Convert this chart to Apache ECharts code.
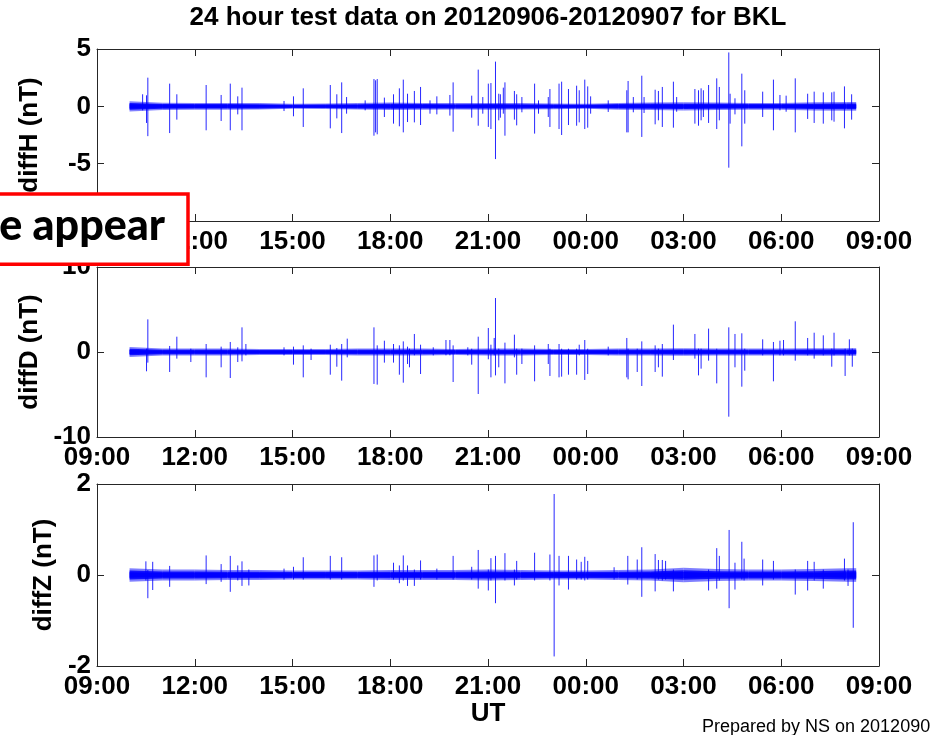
<!DOCTYPE html>
<html><head><meta charset="utf-8">
<script src="https://cdn.jsdelivr.net/npm/echarts@6/dist/echarts.min.js"></script>
<style>html,body{margin:0;padding:0;background:#fff}#c{width:933px;height:735px}</style>
</head><body><div id="c"></div>
<script>
// ---------- data (time in hours after 09:00 UT, 20120906) ----------
const titleText = '24 hour test data on 20120906-20120907 for BKL';
const xTickLabels = ['09:00','12:00','15:00','18:00','21:00','00:00','03:00','06:00','09:00'];
const xLabelName = 'UT';
const panelNames = ['diffH (nT)', 'diffD (nT)', 'diffZ (nT)'];
const yMins = [-10, -10, -2];
const yMaxs = [5, 10, 2];
const yIntervals = [5, 10, 2];
const footerText = 'Prepared by NS on 2012090';
const overlayText = 'e appear';

// background noise band: half-width (nT) sampled hourly
const noiseHours = [1,2,3,4,5,6,7,8,9,10,11,12,13,14,15,16,17,18,19,20,21,22,23,23.3];
const hNoise = [0.45,0.32,0.30,0.30,0.28,0.22,0.24,0.28,0.33,0.30,0.28,0.30,0.28,0.25,0.22,0.30,0.33,0.36,0.33,0.30,0.30,0.36,0.38,0.38];
const dNoise = [0.60,0.40,0.40,0.40,0.35,0.35,0.35,0.40,0.40,0.40,0.35,0.40,0.40,0.35,0.35,0.40,0.40,0.45,0.40,0.40,0.40,0.45,0.45,0.45];
const zNoise = [0.15,0.12,0.12,0.11,0.11,0.10,0.10,0.10,0.11,0.11,0.11,0.12,0.11,0.10,0.10,0.11,0.12,0.16,0.13,0.12,0.12,0.13,0.15,0.15];

// diffH spikes
const hSpikeHours = [1.40,1.52,1.56,2.23,2.45,3.35,3.81,4.09,4.32,4.45,5.74,6.03,6.33,7.16,7.36,7.51,7.66,8.23,8.50,8.55,8.60,8.82,9.10,9.28,9.40,9.53,9.74,9.93,10.22,10.43,10.83,10.93,11.50,11.70,11.84,12.01,12.09,12.23,12.33,12.38,12.47,12.52,12.81,12.88,13.04,13.43,13.55,13.85,13.90,14.18,14.26,14.47,14.72,14.80,14.97,15.06,15.15,15.69,16.26,16.30,16.46,16.72,16.79,17.13,17.23,17.35,17.69,17.79,18.35,18.46,18.54,18.61,18.77,19.02,19.10,19.39,19.43,19.58,19.79,19.88,20.43,20.76,20.96,21.15,21.43,21.81,22.01,22.29,22.55,22.62,22.94,23.16];
const hSpikeHigh = [1.05,0.96,2.5,1.98,1.05,1.86,0.99,1.98,0.87,1.63,0.47,0.87,1.57,1.86,1.05,2.09,0.81,0.52,2.38,2.27,2.38,0.76,1.05,1.57,2.33,1.10,1.34,1.69,0.52,0.87,0.99,2.09,0.93,3.2,0.81,1.98,2.03,3.9,1.10,1.05,1.63,2.09,1.34,1.05,0.81,1.98,0.52,0.81,1.51,1.98,2.15,1.51,1.80,1.40,2.33,1.74,0.87,0.52,1.40,2.21,0.81,2.67,0.81,1.45,1.34,1.69,2.15,0.81,1.51,1.40,1.57,1.40,1.86,2.44,1.69,4.7,1.10,0.70,2.85,1.40,1.28,2.33,0.99,0.93,2.44,1.10,1.28,1.22,1.22,1.28,1.74,1.05];
const hSpikeLow = [-0.35,-1.45,-2.6,-2.33,-1.16,-2.09,-1.28,-2.09,-0.70,-2.09,-0.41,-0.87,-1.80,-1.92,-1.05,-2.33,-0.64,-0.35,-2.56,-2.27,-2.44,-0.93,-1.51,-1.74,-2.27,-1.37,-1.40,-1.63,-0.64,-0.70,-0.81,-2.21,-0.99,-1.69,-0.64,-1.80,-1.98,-4.6,-1.22,-0.99,-0.64,-2.56,-1.16,-1.66,-0.52,-2.38,-0.64,-0.93,-1.80,-1.98,-2.50,-1.63,-1.69,-1.40,-1.98,-1.86,-0.64,-0.49,-2.27,-2.27,-0.52,-2.67,-0.58,-1.57,-1.22,-1.80,-1.86,-0.47,-1.51,-1.69,-1.22,-0.93,-1.45,-1.98,-1.22,-5.35,-1.51,-0.70,-3.49,-1.51,-0.93,-2.09,-0.35,-0.47,-2.27,-1.10,-1.45,-1.51,-1.22,-1.34,-1.92,-1.16];

// diffD spikes
const dSpikeHours = [1.52,1.56,2.23,2.45,2.88,3.35,3.81,4.09,4.32,4.45,4.57,5.74,6.03,6.33,6.57,7.16,7.36,7.51,7.68,8.50,8.60,8.82,9.10,9.28,9.40,9.53,9.59,9.74,9.93,10.32,10.71,10.83,10.93,11.38,11.50,11.70,12.01,12.09,12.19,12.23,12.33,12.52,12.81,12.88,13.04,13.43,13.85,13.90,14.18,14.26,14.47,14.72,14.80,14.97,15.06,15.69,16.26,16.30,16.58,16.72,17.13,17.23,17.35,17.69,18.35,18.46,18.54,18.77,19.02,19.39,19.58,19.79,19.88,20.43,20.76,20.96,21.07,21.43,21.81,22.01,22.29,22.55,22.62,22.96,23.09,23.18];
const dSpikeHigh = [0.39,3.84,0.71,1.80,0.39,0.94,0.63,1.18,0.55,2.90,0.94,0.55,0.63,0.78,0.40,0.86,0.47,0.94,1.57,2.90,0.78,1.33,0.94,0.78,1.25,0.63,0.40,2.12,0.86,0.55,1.41,1.41,0.78,0.55,0.39,1.80,2.82,0.86,1.65,6.35,0.39,1.10,2.04,0.39,0.40,0.78,0.94,0.39,0.94,0.39,0.39,0.39,0.86,1.41,0.39,0.63,1.65,0.39,0.39,1.25,0.78,0.39,0.94,3.22,2.12,0.39,0.39,2.75,0.39,2.90,2.12,2.20,0.39,1.49,1.18,1.33,1.41,3.61,1.65,2.27,1.96,0.40,2.27,0.39,1.49,0.40];
const dSpikeLow = [-2.27,-1.25,-2.35,-0.78,-1.18,-2.98,-1.80,-3.06,-1.18,-1.10,-0.40,-0.40,-1.49,-2.98,-0.94,-2.67,-1.73,-3.37,-0.63,-3.76,-3.84,-1.25,-1.25,-2.67,-3.61,-1.41,-1.80,-0.39,-2.59,-0.40,-0.39,-0.39,-3.53,-0.40,-1.49,-4.94,-0.86,-2.98,-0.40,-2.75,-1.80,-3.69,-0.63,-2.67,-1.41,-3.45,-1.41,-2.82,-2.98,-2.90,-2.67,-2.67,-0.40,-3.29,-2.59,-0.40,-2.98,-3.22,-2.35,-4.00,-2.35,-1.80,-2.90,-0.94,-0.78,-2.75,-1.96,-1.02,-3.69,-7.61,-1.80,-4.08,-2.20,-0.40,-3.45,-0.40,-0.40,-1.02,-0.40,-0.78,-0.40,-1.73,-0.40,-2.82,-0.40,-1.73];

// diffZ spikes
const zSpikeHours = [1.50,1.56,1.71,2.23,3.35,3.81,4.09,4.32,4.45,4.66,5.74,6.03,6.33,7.16,7.51,8.50,8.60,9.10,9.28,9.40,9.53,9.74,9.93,10.43,10.93,11.50,11.70,12.01,12.09,12.23,12.52,12.81,12.88,13.43,13.90,14.03,14.18,14.47,14.72,14.86,14.97,15.06,15.87,16.29,16.58,16.72,17.13,17.23,17.35,17.45,17.69,18.77,19.02,19.10,19.40,19.58,19.79,19.86,20.43,20.76,21.43,21.81,22.01,22.29,22.94,23.05,23.21];
const zSpikeHigh = [0.30,0.11,0.29,0.20,0.43,0.24,0.42,0.21,0.30,0.12,0.14,0.18,0.39,0.42,0.39,0.43,0.45,0.27,0.21,0.43,0.21,0.12,0.32,0.14,0.42,0.18,0.55,0.12,0.37,0.42,0.48,0.12,0.31,0.49,0.45,1.78,0.42,0.42,0.34,0.29,0.40,0.31,0.17,0.42,0.34,0.61,0.46,0.33,0.33,0.31,0.12,0.12,0.59,0.42,0.99,0.27,0.73,0.36,0.34,0.31,0.12,0.31,0.29,0.12,0.36,0.12,1.16];
const zSpikeLow = [-0.12,-0.51,-0.33,-0.26,-0.20,-0.15,-0.37,-0.12,-0.24,-0.23,-0.10,-0.10,-0.10,-0.10,-0.10,-0.26,-0.12,-0.10,-0.18,-0.12,-0.24,-0.24,-0.10,-0.10,-0.10,-0.10,-0.30,-0.34,-0.12,-0.62,-0.12,-0.23,-0.10,-0.12,-0.12,-1.79,-0.23,-0.32,-0.10,-0.10,-0.12,-0.10,-0.10,-0.21,-0.10,-0.48,-0.36,-0.10,-0.12,-0.10,-0.36,-0.34,-0.30,-0.12,-0.73,-0.32,-0.10,-0.12,-0.23,-0.10,-0.43,-0.34,-0.12,-0.30,-0.12,-0.24,-1.16];

// ---------- chart ----------
const FONT = 'Liberation Sans, Arial, Helvetica, sans-serif';
const AX = '#262626';
const grids = [
  {left: 97, top: 49, width: 782, height: 172},
  {left: 97, top: 267, width: 782, height: 170},
  {left: 97, top: 484, width: 782, height: 182}
];
const nameGaps = [53, 53, 35];
const noiseSets = [hNoise, dNoise, zNoise];
const spikeSets = [
  [hSpikeHours, hSpikeHigh, hSpikeLow],
  [dSpikeHours, dSpikeHigh, dSpikeLow],
  [zSpikeHours, zSpikeHigh, zSpikeLow]
];

function bandPoly(api, t0, e0, t1, e1, f) {
  return [api.coord([t0, e0 * f]), api.coord([t1, e1 * f]), api.coord([t1, -e1 * f]), api.coord([t0, -e0 * f])];
}

const labelStyle = {fontSize: 26, fontWeight: 'bold', color: '#000', fontFamily: FONT};
const xAxes = [], yAxes = [], series = [];
grids.forEach((g, i) => {
  const common = {
    gridIndex: i, type: 'value', min: 0, max: 24, interval: 3,
    axisLine: {show: true, onZero: false, lineStyle: {color: AX, width: 1}},
    axisTick: {show: true, inside: true, length: 7, lineStyle: {color: AX}},
    splitLine: {show: false}
  };
  xAxes.push(Object.assign({}, common, {
    position: 'bottom',
    axisLabel: Object.assign({margin: 8, showMinLabel: true, showMaxLabel: true,
      formatter: v => xTickLabels[Math.round(v / 3)]}, labelStyle),
    name: i === 2 ? xLabelName : '', nameLocation: 'middle', nameGap: 31,
    nameTextStyle: labelStyle
  }));
  xAxes.push(Object.assign({}, common, {position: 'top', axisLabel: {show: false}}));
  const ycommon = {
    gridIndex: i, type: 'value', min: yMins[i], max: yMaxs[i], interval: yIntervals[i],
    axisLine: {show: true, onZero: false, lineStyle: {color: AX, width: 1}},
    axisTick: {show: true, inside: true, length: 7, lineStyle: {color: AX}},
    splitLine: {show: false}
  };
  yAxes.push(Object.assign({}, ycommon, {
    position: 'left',
    axisLabel: Object.assign({margin: 6, showMinLabel: true, showMaxLabel: true}, labelStyle),
    name: panelNames[i], nameLocation: 'middle', nameGap: nameGaps[i],
    nameTextStyle: labelStyle
  }));
  yAxes.push(Object.assign({}, ycommon, {position: 'right', axisLabel: {show: false}}));

  const nz = noiseSets[i];
  const band = [];
  for (let k = 0; k < noiseHours.length - 1; k++) band.push([noiseHours[k], nz[k], noiseHours[k + 1], nz[k + 1]]);
  series.push({
    type: 'custom', xAxisIndex: i * 2, yAxisIndex: i * 2, z: 2,
    data: band, silent: true,
    renderItem: (params, api) => {
      const t0 = api.value(0), e0 = api.value(1), t1 = api.value(2), e1 = api.value(3);
      return {type: 'group', children: [
        {type: 'polygon', shape: {points: bandPoly(api, t0, e0, t1, e1, 1)}, style: {fill: 'rgba(0,0,255,0.5)'}},
        {type: 'polygon', shape: {points: bandPoly(api, t0, e0, t1, e1, 0.65)}, style: {fill: 'rgba(0,0,255,0.85)'}},
        {type: 'polygon', shape: {points: bandPoly(api, t0, e0, t1, e1, 0.4)}, style: {fill: '#0000ff'}}
      ]};
    }
  });
  const s = spikeSets[i];
  series.push({
    type: 'custom', xAxisIndex: i * 2, yAxisIndex: i * 2, z: 3,
    data: s[0].map((t, k) => [t, s[1][k], s[2][k]]), silent: true,
    renderItem: (params, api) => {
      const t = api.value(0);
      const a = api.coord([t, api.value(1)]), b = api.coord([t, api.value(2)]);
      return {type: 'line', shape: {x1: a[0], y1: a[1], x2: b[0], y2: b[1]},
        style: {stroke: '#0000ff', lineWidth: 1, opacity: 0.85}};
    }
  });
});

const chart = echarts.init(document.getElementById('c'), null, {renderer: 'canvas'});
chart.setOption({
  animation: false,
  backgroundColor: '#fff',
  title: {text: titleText, left: 488, top: 5, padding: 0, textAlign: 'center',
    textStyle: {fontSize: 26, fontWeight: 'bold', color: '#000', fontFamily: FONT}},
  grid: grids,
  xAxis: xAxes,
  yAxis: yAxes,
  series: series,
  graphic: [
    {type: 'text', z: 100, x: 702, y: 727,
      style: {text: footerText, font: '18px ' + FONT, fill: '#000', align: 'left', verticalAlign: 'middle'}},
    {type: 'rect', z: 100, shape: {x: -10, y: 194, width: 198, height: 70.3},
      style: {fill: '#fff', stroke: '#ff0000', lineWidth: 3.5}},
    {type: 'text', z: 101, x: 165, y: 226,
      style: {text: overlayText, font: '900 43px Lato, "Open Sans", sans-serif', fill: '#000', align: 'right', verticalAlign: 'middle'}}
  ]
});
</script>
</body></html>
